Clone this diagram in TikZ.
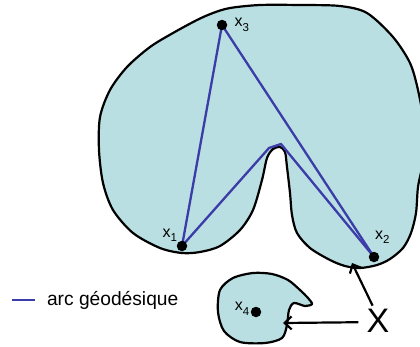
\documentclass[tikz,border=0pt]{standalone}
\usepackage{fontspec}
\setmainfont{Liberation Sans}
\usetikzlibrary{positioning, arrows.meta, backgrounds}
\definecolor{zonefill}{RGB}{185,223,226}
\definecolor{geoblue}{RGB}{60,60,168}
\newcommand{\xsub}[1]{x\raisebox{-0.3em}{\fontsize{11.5}{12}\selectfont #1}}

\begin{document}
\begin{tikzpicture}[x=1pt, y=-1pt,
    every node/.style={font=\fontsize{16}{18}\selectfont},
    zone/.style={draw=black, line width=2.2pt, fill=zonefill, line join=round},
    dot/.style={circle, fill=black, inner sep=0pt, minimum size=10.5pt},
    geo/.style={draw=geoblue, line width=2.3pt, line join=round},
    arrow/.style={-{Straight Barb[length=7pt, width=13pt]}, line width=2.2pt},
    lab/.style={inner sep=1pt}]

  \useasboundingbox (0,0) rectangle (420,346);
  \clip (0,0) rectangle (420,346);

  \node[dot] (x3) at (222,25) {};
  \node[dot] (x1) at (182,246) {};
  \node[dot] (x2) at (374,257) {};
  \node[dot] (x4) at (256,312) {};
  \node[lab, right=6pt of x3] {\xsub{3}};
  \node[lab, above left=-1pt and 0pt of x1] {\xsub{1}};
  \node[lab, above right=8pt and -4pt of x2] {\xsub{2}};
  \node[lab, left=0pt of x4, yshift=3pt] {\xsub{4}};

  \coordinate (bend1) at (269,148);
  \coordinate (bend2) at (281,144);

  \begin{scope}[on background layer]
    \draw[zone] plot[smooth cycle, tension=0.5] coordinates {
      (230,8) (260,5) (300,5) (340,6) (367,13) (393,37) (410,63) (418,90)
      (423,120) (423,160) (418,187) (416,213) (411,233) (403,248) (390,259)
      (377,265) (360,268) (345,266) (330,260) (310,248) (297,233) (292,215)
      (290,193) (287,167) (285,152) (280,147) (273,149) (267,158) (262,180)
      (253,210) (240,230) (220,246) (200,252) (182,253) (160,248) (133,233)
      (113,210) (103,183) (99,150) (100,117) (110,90) (127,67) (150,47)
      (173,33) (197,20) (213,13)};
    \draw[zone] plot[smooth cycle, tension=0.5] coordinates {
      (220,290) (233,278) (253,273) (272,274) (288,280) (300,290) (308,298)
      (312,304) (305,306) (294,303) (289,310) (287,325) (282,338) (265,343)
      (240,342) (224,331) (218,312)};
    \draw[geo] (x1.center) -- (x3.center) -- (x2.center);
    \draw[geo] (x1.center) -- (bend1) -- (bend2) -- (x2.center);
  \end{scope}

  \coordinate (legA) at (12,300);
  \coordinate (legB) at (35,300);
  \draw[geo] (legA) -- (legB);
  \node[font=\fontsize{19.2}{21}\selectfont, right=8.5pt of legB] (legtext) {arc géodésique};

  \node[font=\fontsize{34}{36}\selectfont, inner xsep=8pt, inner ysep=3pt] (X) at (378,320.5) {X};
  \coordinate (tipA) at (352,263);
  \coordinate (tipB) at (283,323);
  \draw[arrow] (X.110) -- (tipA);
  \draw[arrow] (X.185) -- (tipB);
\end{tikzpicture}
\end{document}
